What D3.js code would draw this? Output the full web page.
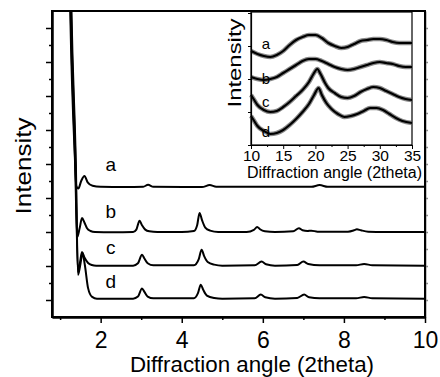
<!DOCTYPE html>
<html>
<head>
<meta charset="utf-8">
<script src="https://cdn.jsdelivr.net/npm/d3@7"></script>
<style>
  body { margin: 0; background: #fff; }
  svg { display: block; font-family: Arial, "Liberation Sans", sans-serif; }
</style>
</head>
<body>
<div id="chart"></div>
<script>
// main pattern, [2theta, intensity] (curves stacked, offsets already in)
var seriesNames = ['a', 'b', 'c', 'd'];
var curveA = [[1.18,14],[1.25,8.5],[1.36,4.3],[1.40,3.35],[1.45,3.28],[1.52,3.5],[1.6,3.65],[1.68,3.46],[1.8,3.36],[2.0,3.33],[2.6,3.32],[3.05,3.33],[3.17,3.39],[3.3,3.33],[4.5,3.32],[4.69,3.38],[4.85,3.33],[7.2,3.33],[7.4,3.38],[7.6,3.33],[10,3.33]];
var curveB = [[1.19,14],[1.26,8.5],[1.37,4.1],[1.42,1.85],[1.48,2.1],[1.54,2.41],[1.6,2.28],[1.66,2.12],[1.75,2.03],[1.86,2.0],[2.3,1.99],[2.8,2.0],[2.88,2.07],[2.96,2.33],[3.02,2.2],[3.1,2.07],[3.2,2.02],[3.4,2.0],[4.0,2.0],[4.3,2.03],[4.38,2.2],[4.44,2.56],[4.5,2.35],[4.58,2.13],[4.7,2.04],[4.9,2.0],[5.6,2.0],[5.78,2.06],[5.86,2.15],[5.93,2.08],[6.05,2.02],[6.3,2.0],[6.75,2.02],[6.89,2.11],[6.98,2.05],[7.1,2.03],[7.2,2.04],[7.35,2.01],[8.1,2.01],[8.25,2.05],[8.32,2.08],[8.42,2.05],[8.6,2.01],[9.0,2.0],[10,2.0]];
var curveC = [[1.2,14],[1.27,8.5],[1.38,4.0],[1.44,0.82],[1.49,1.1],[1.54,1.41],[1.6,1.25],[1.69,1.09],[1.78,1.03],[1.89,1.01],[2.8,1.01],[2.92,1.08],[3.02,1.33],[3.08,1.22],[3.16,1.08],[3.3,1.02],[4.3,1.02],[4.42,1.2],[4.49,1.48],[4.55,1.3],[4.64,1.12],[4.8,1.04],[5.0,1.01],[5.8,1.02],[5.97,1.13],[6.08,1.05],[6.3,1.01],[6.85,1.03],[7.0,1.13],[7.12,1.06],[7.4,1.02],[8.3,1.02],[8.5,1.06],[8.7,1.02],[10,1.01]];
var curveD = [[1.21,14],[1.28,8.5],[1.39,3.9],[1.44,0.74],[1.5,1.05],[1.55,1.38],[1.61,1.03],[1.69,0.35],[1.79,0.09],[1.91,0.04],[2.8,0.04],[2.92,0.1],[3.02,0.34],[3.08,0.24],[3.16,0.1],[3.3,0.05],[4.3,0.05],[4.4,0.2],[4.47,0.45],[4.53,0.3],[4.62,0.13],[4.8,0.06],[5.0,0.04],[5.8,0.05],[5.95,0.16],[6.06,0.08],[6.3,0.04],[6.85,0.06],[7.02,0.16],[7.14,0.08],[7.4,0.05],[8.3,0.05],[8.5,0.09],[8.7,0.05],[10,0.04]];
var mainCurves = [curveA, curveB, curveC, curveD];
var labelPos = [[2.25, 3.8], [2.25, 2.4], [2.25, 1.34], [2.25, 0.35]];
var xTicks = [2, 4, 6, 8, 10];

// inset: amorphous halo, [2theta, intensity]
var insetA = [[10,94],[11,91],[12,89],[13,88],[14,90],[15,94],[16,100],[17,105],[18,108],[19,110],[20,110],[21,107],[22,102],[23,99],[24,97],[25,98],[26,101],[27,104],[28,105],[29,106],[30,106],[31,105],[32,103],[33,102],[34,102],[35,102]];
var insetB = [[10,68],[11,66],[12,65],[13,66],[14,68],[15,72],[16,76],[17,80],[18,84],[19,86],[20,86],[21,84],[22,81],[23,78],[24,76],[25,75],[26,76],[27,78],[28,80],[29,82],[30,83],[31,82],[32,81],[33,79],[34,78],[35,78]];
var insetC = [[10,50],[10.5,45],[11,40],[12,35],[13,33],[14,34],[15,38],[16,43],[17,49],[18,55],[19,63],[19.7,71],[20.3,76],[20.8,71],[21.5,62],[22,57],[23,52],[24,48],[25,47],[26,49],[27,53],[28,56],[29,58],[30,57],[31,54],[32,51],[33,48],[34,46],[35,45]];
var insetD = [[10,29],[10.5,24],[11,19],[12,14],[13,11],[14,12],[15,15],[16,20],[17,26],[18,33],[19,41],[19.8,50],[20.5,57],[21,50],[21.7,42],[22.5,36],[23.5,31],[24.5,28],[25.5,29],[26.5,31],[27.5,34],[28.5,37],[29.5,37],[30.5,35],[31.5,31],[32.5,27],[33.5,24],[35,22]];
var insetCurves = [insetA, insetB, insetC, insetD];
var insetLabelPos = [[12.3, 96], [12.3, 61], [12.3, 38], [12.3, 8]];
var insetTicks = [10, 15, 20, 25, 30, 35];

var width = 440, height = 377;
var margin = {top: 11, right: 15, bottom: 60, left: 52};

var svg = d3.select('#chart').append('svg')
  .attr('width', width)
  .attr('height', height);

var x = d3.scaleLinear().domain([0.8, 10]).range([margin.left, width - margin.right]);
var y = d3.scaleLinear().domain([-0.5, 8.5]).range([height - margin.bottom, margin.top]);

svg.append('clipPath').attr('id', 'plot-clip')
  .append('rect')
  .attr('x', x.range()[0]).attr('y', y.range()[1])
  .attr('width', x.range()[1] - x.range()[0])
  .attr('height', y.range()[0] - y.range()[1]);

var line = d3.line()
  .x(function (d) { return x(d[0]); })
  .y(function (d) { return y(d[1]); })
  .curve(d3.curveMonotoneX);

svg.append('g')
  .attr('clip-path', 'url(#plot-clip)')
  .selectAll('path')
  .data(mainCurves)
  .enter().append('path')
  .attr('d', line)
  .attr('fill', 'none')
  .attr('stroke', '#000')
  .attr('stroke-width', 2)
  .attr('stroke-linejoin', 'round');

svg.append('g')
  .selectAll('text')
  .data(seriesNames)
  .enter().append('text')
  .attr('x', function (d, i) { return x(labelPos[i][0]); })
  .attr('y', function (d, i) { return y(labelPos[i][1]); })
  .attr('text-anchor', 'middle')
  .attr('font-size', 19)
  .text(function (d) { return d; });

// axes
var xAxis = svg.append('g')
  .attr('transform', 'translate(0,' + y.range()[0] + ')')
  .call(d3.axisBottom(x).tickValues(xTicks).tickSize(6).tickSizeOuter(0).tickFormat(d3.format('d')));
xAxis.selectAll('text').attr('font-size', 23).attr('dy', '0.95em').attr('fill', '#000');

svg.append('g')
  .attr('transform', 'translate(0,' + y.range()[0] + ')')
  .call(d3.axisBottom(x).tickValues([1, 3, 5, 7, 9]).tickSize(3).tickSizeOuter(0).tickFormat(''));

svg.append('g')
  .attr('transform', 'translate(' + x.range()[0] + ',0)')
  .call(d3.axisLeft(y).tickValues(d3.range(0, 9)).tickSize(6).tickSizeOuter(0).tickFormat(''));
svg.append('g')
  .attr('transform', 'translate(' + x.range()[0] + ',0)')
  .call(d3.axisLeft(y).tickValues(d3.range(0.5, 8, 1)).tickSize(3).tickSizeOuter(0).tickFormat(''));

svg.append('g')
  .attr('transform', 'translate(' + x.range()[1] + ',0)')
  .attr('opacity', 0.45)
  .call(d3.axisRight(y).tickValues(d3.range(0, 8.5, 0.5)).tickSize(3).tickSizeOuter(0).tickFormat(''));

svg.selectAll('.domain').attr('stroke-width', 2);
svg.selectAll('.tick line').attr('stroke-width', 1.5);

// frame
svg.append('rect')
  .attr('x', x.range()[0]).attr('y', y.range()[1])
  .attr('width', x.range()[1] - x.range()[0])
  .attr('height', y.range()[0] - y.range()[1])
  .attr('fill', 'none')
  .attr('stroke', '#000')
  .attr('stroke-width', 2);

svg.append('text')
  .attr('x', 252).attr('y', 372)
  .attr('text-anchor', 'middle')
  .attr('font-size', 22)
  .attr('textLength', 244)
  .attr('lengthAdjust', 'spacingAndGlyphs')
  .text('Diffraction angle (2theta)');

svg.append('text')
  .attr('transform', 'translate(31,166) rotate(-90)')
  .attr('text-anchor', 'middle')
  .attr('font-size', 22)
  .attr('textLength', 97)
  .attr('lengthAdjust', 'spacingAndGlyphs')
  .text('Intensity');

// inset
var ix = d3.scaleLinear().domain([10, 35]).range([251, 412]);
var iy = d3.scaleLinear().domain([0, 133]).range([145, 12]);

var ig = svg.append('g');

ig.append('rect')
  .attr('x', 251).attr('y', 12)
  .attr('width', 161).attr('height', 133)
  .attr('fill', '#fff')
  .attr('stroke', '#000')
  .attr('stroke-width', 1.2);

var iline = d3.line()
  .x(function (d) { return ix(d[0]); })
  .y(function (d) { return iy(d[1]); })
  .curve(d3.curveMonotoneX);

// noisy band drawn as a soft grey halo under a black core
ig.selectAll('path.halo')
  .data(insetCurves)
  .enter().append('path')
  .attr('class', 'halo')
  .attr('d', iline)
  .attr('fill', 'none')
  .attr('stroke', '#555')
  .attr('stroke-opacity', 0.7)
  .attr('stroke-width', 4.5);

ig.selectAll('path.core')
  .data(insetCurves)
  .enter().append('path')
  .attr('class', 'core')
  .attr('d', iline)
  .attr('fill', 'none')
  .attr('stroke', '#000')
  .attr('stroke-width', 2.2);

ig.selectAll('text.lab')
  .data(seriesNames)
  .enter().append('text')
  .attr('class', 'lab')
  .attr('x', function (d, i) { return ix(insetLabelPos[i][0]); })
  .attr('y', function (d, i) { return iy(insetLabelPos[i][1]); })
  .attr('text-anchor', 'middle')
  .attr('font-size', 15)
  .text(function (d) { return d; });

var ixAxis = ig.append('g')
  .attr('transform', 'translate(0,145)')
  .call(d3.axisBottom(ix).tickValues(insetTicks).tickSize(4).tickSizeOuter(0).tickPadding(1).tickFormat(d3.format('d')));
ixAxis.selectAll('text').attr('font-size', 15.5).attr('fill', '#000');
ig.append('g')
  .attr('transform', 'translate(0,145)')
  .call(d3.axisBottom(ix).tickValues([12.5, 17.5, 22.5, 27.5, 32.5]).tickSize(2).tickSizeOuter(0).tickFormat(''));
ig.append('g')
  .attr('transform', 'translate(251,0)')
  .call(d3.axisLeft(iy).tickValues([0, 33, 66, 99, 132]).tickSize(3).tickSizeOuter(0).tickFormat(''));
ig.selectAll('.domain').attr('stroke-width', 1.2);

ig.append('text')
  .attr('x', 334.5).attr('y', 178)
  .attr('text-anchor', 'middle')
  .attr('font-size', 16)
  .attr('textLength', 175)
  .attr('lengthAdjust', 'spacingAndGlyphs')
  .text('Diffraction angle (2theta)');

ig.append('text')
  .attr('transform', 'translate(241,63) rotate(-90)')
  .attr('text-anchor', 'middle')
  .attr('font-size', 18)
  .attr('textLength', 89)
  .attr('lengthAdjust', 'spacingAndGlyphs')
  .text('Intensity');
</script>
</body>
</html>
